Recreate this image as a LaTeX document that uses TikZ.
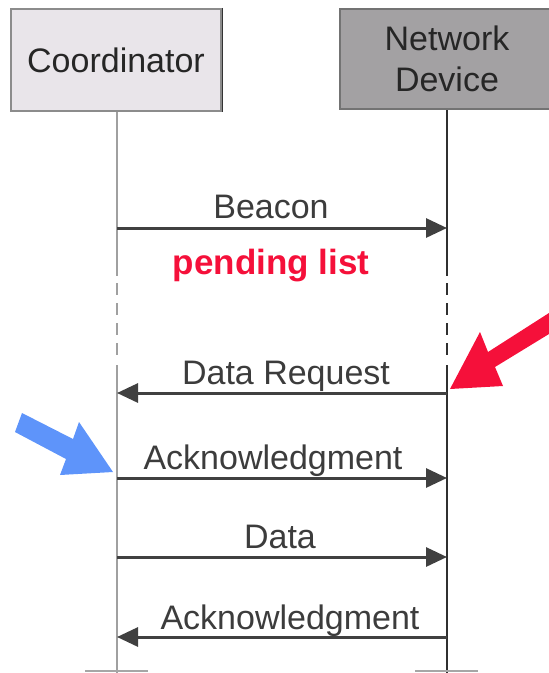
\documentclass[tikz,border=0pt]{standalone}
\usepackage{fontspec}
\setmainfont{Liberation Sans}
\usetikzlibrary{arrows.meta}
\definecolor{coordfill}{HTML}{E9E5EA}
\definecolor{devfill}{HTML}{A3A1A3}
\definecolor{msgcol}{HTML}{404040}
\definecolor{labcol}{HTML}{3C3C3C}
\definecolor{pendred}{HTML}{F5103A}
\definecolor{bluearr}{HTML}{5E94FA}
\definecolor{lifecoord}{HTML}{A0A0A0}
\definecolor{lifedev}{HTML}{303030}
\tikzset{
  actor/.style={rectangle, inner sep=0pt, font=\fontsize{34}{41}\selectfont, text=black!85, align=center},
  msg/.style={draw=msgcol, line width=3pt, -{Triangle[length=21pt,width=19pt]}},
  lab/.style={anchor=base, font=\fontsize{34}{41}\selectfont, text=labcol, inner sep=0pt},
  lifeA/.style={draw=lifecoord, line width=2.6pt},
  lifeB/.style={draw=lifedev, line width=2.4pt},
  dashA/.style={lifeA, dash pattern=on 12pt off 8pt},
  dashB/.style={lifeB, dash pattern=on 12pt off 8pt},
  stub/.style={draw=black!35, line width=1.5pt}
}
\begin{document}
\begin{tikzpicture}[x=1pt,y=-1pt]
\useasboundingbox (0,0) rectangle (549,673);
% actor boxes
\node[actor, fill=coordfill, draw=black!45, line width=2.5pt, minimum width=210pt, minimum height=102pt] (coord) at (116,60) {Coordinator};
\draw[black!80, line width=1.5pt] (coord.north east) -- (coord.south east);
\node[actor, fill=devfill, draw=black!55, line width=2.5pt, minimum width=214pt, minimum height=100pt] (dev) at (447,59) {Network\\Device};
% lifeline coordinates
\coordinate (a1) at (117,276); \coordinate (a2) at (117,283); \coordinate (a3) at (117,360); \coordinate (a4) at (117,365); \coordinate (a5) at (117,673);
\coordinate (b1) at (447,276); \coordinate (b2) at (447,283); \coordinate (b3) at (447,360); \coordinate (b4) at (447,365); \coordinate (b5) at (447,673);
\draw[lifeA] (coord.south -| a1) -- (a1);
\draw[dashA] (a2) -- (a3);
\draw[lifeA] (a4) -- (a5);
\draw[lifeB] (dev.south -| b1) -- (b1);
\draw[dashB] (b2) -- (b3);
\draw[lifeB] (b4) -- (b5);
% bottom stubs
\coordinate (s1) at (85,671); \coordinate (s2) at (148,671);
\coordinate (s3) at (415,671); \coordinate (s4) at (478,671);
\draw[stub] (s1) -- (s2);
\draw[stub] (s3) -- (s4);
% message points
\coordinate (m1a) at (117,228); \coordinate (m1b) at (447,228);
\coordinate (m2a) at (117,393); \coordinate (m2b) at (447,393);
\coordinate (m3a) at (117,478); \coordinate (m3b) at (447,478);
\coordinate (m4a) at (117,557); \coordinate (m4b) at (447,557);
\coordinate (m5a) at (117,637); \coordinate (m5b) at (447,637);
\draw[msg] (m1a) -- (m1b);
\draw[msg] (m2b) -- (m2a);
\draw[msg] (m3a) -- (m3b);
\draw[msg] (m4a) -- (m4b);
\draw[msg] (m5b) -- (m5a);
% labels
\node[lab] (l1) at (271,218) {Beacon};
\node[lab, font=\fontsize{35}{41}\selectfont\bfseries, text=pendred] (pl) at (271,274) {pending list};
\node[lab] (l2) at (286,384) {Data Request};
\node[lab] (l3) at (273,469) {Acknowledgment};
\node[lab] (l4) at (280,548) {Data};
\node[lab] (l5) at (290,629) {Acknowledgment};
% highlight arrows
\fill[pendred] (450,389) -- (480,332) -- (488,352) -- (549,313) -- (549,334) -- (495,367) -- (503,386) -- cycle;
\fill[bluearr] (113,472) -- (79,422) -- (73,439) -- (22,413) -- (15,432) -- (66,459) -- (60,475) -- cycle;
\end{tikzpicture}
\end{document}
